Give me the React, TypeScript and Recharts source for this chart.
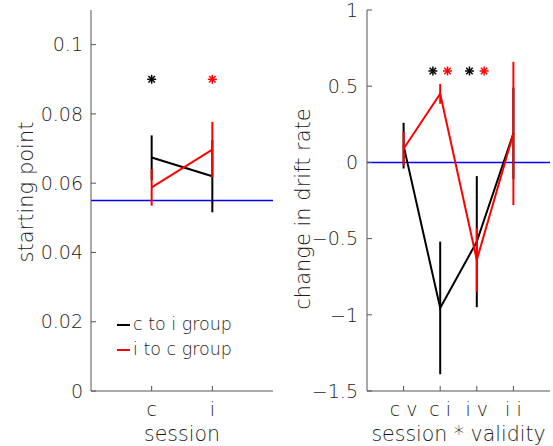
import {
  ComposedChart,
  ErrorBar,
  Label,
  Line,
  ReferenceLine,
  Scatter,
  XAxis,
  YAxis,
} from 'recharts'

// left panel: starting point per session
const sessionCats = ['c', 'i']
const spBlack = [0.0674, 0.062]
const spBlackErr = [0.0064, 0.0104]
const spRed = [0.0588, 0.0697]
const spRedErr = [0.0053, 0.008]
const spBaseline = 0.055
const spTicks = [0, 0.02, 0.04, 0.06, 0.08, 0.1]
const spStars = [
  { x: 1, y: 0.09, color: '#000' },
  { x: 2, y: 0.09, color: '#ff0000' },
]

// right panel: change in drift rate per session * validity
const svCats = ['c v', 'c i', 'i v', 'i i']
const drBlack = [0.11, -0.955, -0.52, 0.19]
const drBlackErr = [0.15, 0.435, 0.43, 0.3]
const drRed = [0.09, 0.45, -0.64, 0.19]
const drRedErr = [0.11, 0.065, 0.21, 0.47]
const drTicks = [-1.5, -1, -0.5, 0, 0.5, 1]
const drStars = [
  { x: 1.8, y: 0.6, color: '#000' },
  { x: 2.2, y: 0.6, color: '#ff0000' },
  { x: 2.8, y: 0.6, color: '#000' },
  { x: 3.2, y: 0.6, color: '#ff0000' },
]

const groups = [
  { name: 'c to i group', color: '#000' },
  { name: 'i to c group', color: '#ff0000' },
]

const FONT = 'DejaVu Sans'
const WEIGHT = 300
const AXIS = '#555'
const TEXT = '#1c1c1c'

const spData = sessionCats.map((c, i) => ({
  x: i + 1,
  black: spBlack[i],
  blackErr: spBlackErr[i],
  red: spRed[i],
  redErr: spRedErr[i],
}))

const drData = svCats.map((c, i) => ({
  x: i + 1,
  black: drBlack[i],
  blackErr: drBlackErr[i],
  red: drRed[i],
  redErr: drRedErr[i],
}))

const Star = (props: any) => {
  const { cx, cy, payload } = props
  const r = 4.5
  const d = r * 0.72
  const c = payload.color
  return (
    <g stroke={c} strokeWidth={1.5}>
      <line x1={cx - r} y1={cy} x2={cx + r} y2={cy} />
      <line x1={cx} y1={cy - r} x2={cx} y2={cy + r} />
      <line x1={cx - d} y1={cy - d} x2={cx + d} y2={cy + d} />
      <line x1={cx - d} y1={cy + d} x2={cx + d} y2={cy - d} />
    </g>
  )
}

const yLabel = (text: string, dx: number, cy: number) => (props: any) => {
  const x = props.viewBox.x + dx
  return (
    <text
      x={x}
      y={cy}
      transform={`rotate(-90 ${x} ${cy})`}
      textAnchor="middle"
      dominantBaseline="central"
      fontSize={21}
      fontFamily={FONT}
      fontWeight={WEIGHT}
      fill={TEXT}
    >
      {text}
    </text>
  )
}

const fmtNum = (v: number) => (v < 0 ? '\u2212' + String(-v) : String(v))

const tickStyle = { fill: TEXT, fontSize: 19, fontFamily: FONT, fontWeight: WEIGHT }
const labelStyle = { fill: TEXT, fontSize: 20.5, fontFamily: FONT, fontWeight: WEIGHT }

export default function App() {
  return (
    <div style={{ position: 'absolute', left: 0, top: 0, width: 553, height: 446, background: '#fff' }}>
      <div style={{ position: 'absolute', left: 0, top: 0 }}>
        <ComposedChart width={280} height={446} data={spData} margin={{ top: 10, right: 7, left: 0, bottom: 0 }}>
          <XAxis
            type="number"
            dataKey="x"
            domain={[0, 3]}
            ticks={[1, 2]}
            interval={0}
            tickFormatter={(v) => sessionCats[v - 1]}
            height={55}
            axisLine={{ stroke: AXIS }}
            tickLine={{ stroke: AXIS }}
            tickSize={-5}
            tickMargin={17}
            tick={tickStyle}
          >
            <Label value="session" position="insideBottom" offset={5} style={labelStyle} />
          </XAxis>
          <YAxis
            type="number"
            domain={[0, 0.11]}
            ticks={spTicks}
            interval={0}
            tickFormatter={fmtNum}
            width={91}
            axisLine={{ stroke: AXIS }}
            tickLine={{ stroke: AXIS }}
            tickSize={-5}
            tickMargin={13}
            tick={tickStyle}
          >
            <Label content={yLabel('starting point', 26, 192)} />
          </YAxis>
          <ReferenceLine y={spBaseline} stroke="#0000ff" strokeWidth={1.5} />
          <Line dataKey="black" name={groups[0].name} stroke="#000" strokeWidth={2} dot={false} isAnimationActive={false}>
            <ErrorBar dataKey="blackErr" width={0} stroke="#000" strokeWidth={2} direction="y" />
          </Line>
          <Line dataKey="red" name={groups[1].name} stroke="#ff0000" strokeWidth={2} dot={false} isAnimationActive={false}>
            <ErrorBar dataKey="redErr" width={0} stroke="#ff0000" strokeWidth={2} direction="y" />
          </Line>
          <Scatter data={spStars} dataKey="y" shape={<Star />} legendType="none" isAnimationActive={false} />
        </ComposedChart>
        <div
          style={{
            position: 'absolute',
            left: 117,
            top: 312,
            fontFamily: FONT,
            fontWeight: WEIGHT,
            fontSize: 17.5,
            lineHeight: '25px',
            color: TEXT,
          }}
        >
          {groups.map((g) => (
            <div key={g.name} style={{ display: 'flex', alignItems: 'center', whiteSpace: 'nowrap' }}>
              <span style={{ width: 13, height: 2, background: g.color, marginRight: 3 }} />
              {g.name}
            </div>
          ))}
        </div>
      </div>
      <div style={{ position: 'absolute', left: 290, top: 0 }}>
        <ComposedChart width={263} height={446} data={drData} margin={{ top: 10, right: 3, left: 0, bottom: 0 }}>
          <XAxis
            type="number"
            dataKey="x"
            domain={[0, 5]}
            ticks={[1, 2, 3, 4]}
            interval={0}
            tickFormatter={(v) => svCats[v - 1]}
            height={55}
            axisLine={{ stroke: AXIS }}
            tickLine={{ stroke: AXIS }}
            tickSize={-5}
            tickMargin={17}
            tick={tickStyle}
          >
            <Label value="session * validity" position="insideBottom" offset={5} style={labelStyle} />
          </XAxis>
          <YAxis
            type="number"
            domain={[-1.5, 1]}
            ticks={drTicks}
            interval={0}
            tickFormatter={fmtNum}
            width={77}
            axisLine={{ stroke: AXIS }}
            tickLine={{ stroke: AXIS }}
            tickSize={-5}
            tickMargin={14}
            tick={tickStyle}
          >
            <Label content={yLabel('change in drift rate', 13, 209)} />
          </YAxis>
          <ReferenceLine y={0} stroke="#0000ff" strokeWidth={1.5} />
          <Line dataKey="black" stroke="#000" strokeWidth={2} dot={false} isAnimationActive={false}>
            <ErrorBar dataKey="blackErr" width={0} stroke="#000" strokeWidth={2} direction="y" />
          </Line>
          <Line dataKey="red" stroke="#ff0000" strokeWidth={2} dot={false} isAnimationActive={false}>
            <ErrorBar dataKey="redErr" width={0} stroke="#ff0000" strokeWidth={2} direction="y" />
          </Line>
          <Scatter data={drStars} dataKey="y" shape={<Star />} legendType="none" isAnimationActive={false} />
        </ComposedChart>
      </div>
    </div>
  )
}
